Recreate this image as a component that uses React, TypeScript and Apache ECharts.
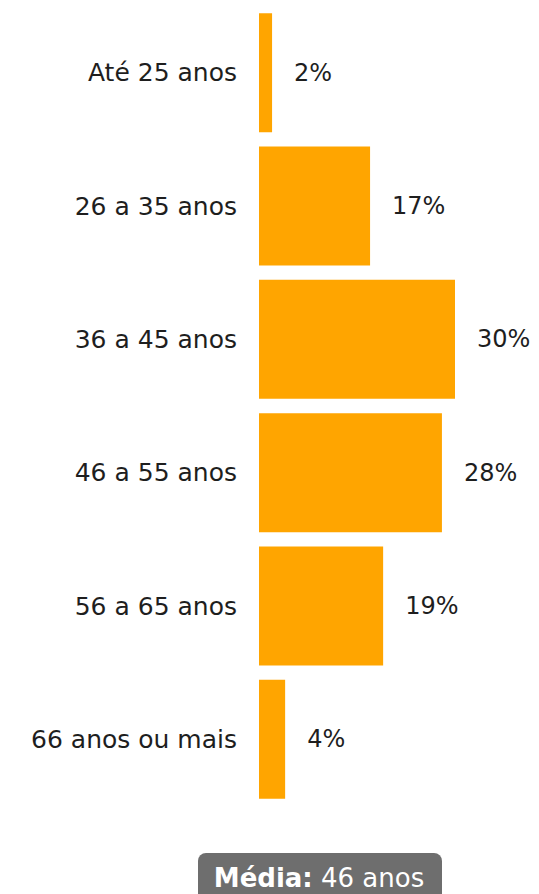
import React, { useEffect, useRef } from "react";
import * as echarts from "echarts";

const categories = ["Até 25 anos", "26 a 35 anos", "36 a 45 anos", "46 a 55 anos", "56 a 65 anos", "66 anos ou mais"];
const values = [2, 17, 30, 28, 19, 4];
const averageLabel = "46 anos";

export default function App() {
  const ref = useRef<HTMLDivElement>(null);
  useEffect(() => {
    const chart = echarts.init(ref.current!, undefined, { renderer: "svg" });
    const font = "DejaVu Sans";
    chart.setOption({
      animation: false,
      grid: { left: 259, width: 196, top: 6, height: 800 },
      xAxis: { type: "value", min: 0, max: 30, show: false },
      yAxis: {
        type: "category",
        inverse: true,
        data: categories,
        axisLine: { show: false },
        axisTick: { show: false },
        axisLabel: { margin: 22, color: "#1e1e1e", fontSize: 25, fontFamily: font },
      },
      series: [
        {
          type: "bar",
          data: values,
          barWidth: 119,
          itemStyle: { color: "#FFA500" },
          label: {
            show: true,
            position: "right",
            distance: 22,
            formatter: "{c}%",
            color: "#1e1e1e",
            fontSize: 24,
            fontFamily: font,
          },
        },
      ],
      graphic: [
        {
          type: "rect",
          x: 198,
          y: 853,
          shape: { width: 244, height: 50, r: 8 },
          style: { fill: "#6e6e6e" },
        },
        {
          type: "text",
          x: 319,
          y: 878,
          style: {
            text: "{b|Média:}{n| " + averageLabel + "}",
            align: "center",
            verticalAlign: "middle",
            rich: {
              b: { fontSize: 26, fontWeight: "bold", fill: "#fff", fontFamily: font },
              n: { fontSize: 26, fill: "#fff", fontFamily: font },
            },
          },
        },
      ],
    });
    return () => chart.dispose();
  }, []);
  return <div ref={ref} style={{ width: 539, height: 894, position: "absolute", left: 0, top: 0 }} />;
}
